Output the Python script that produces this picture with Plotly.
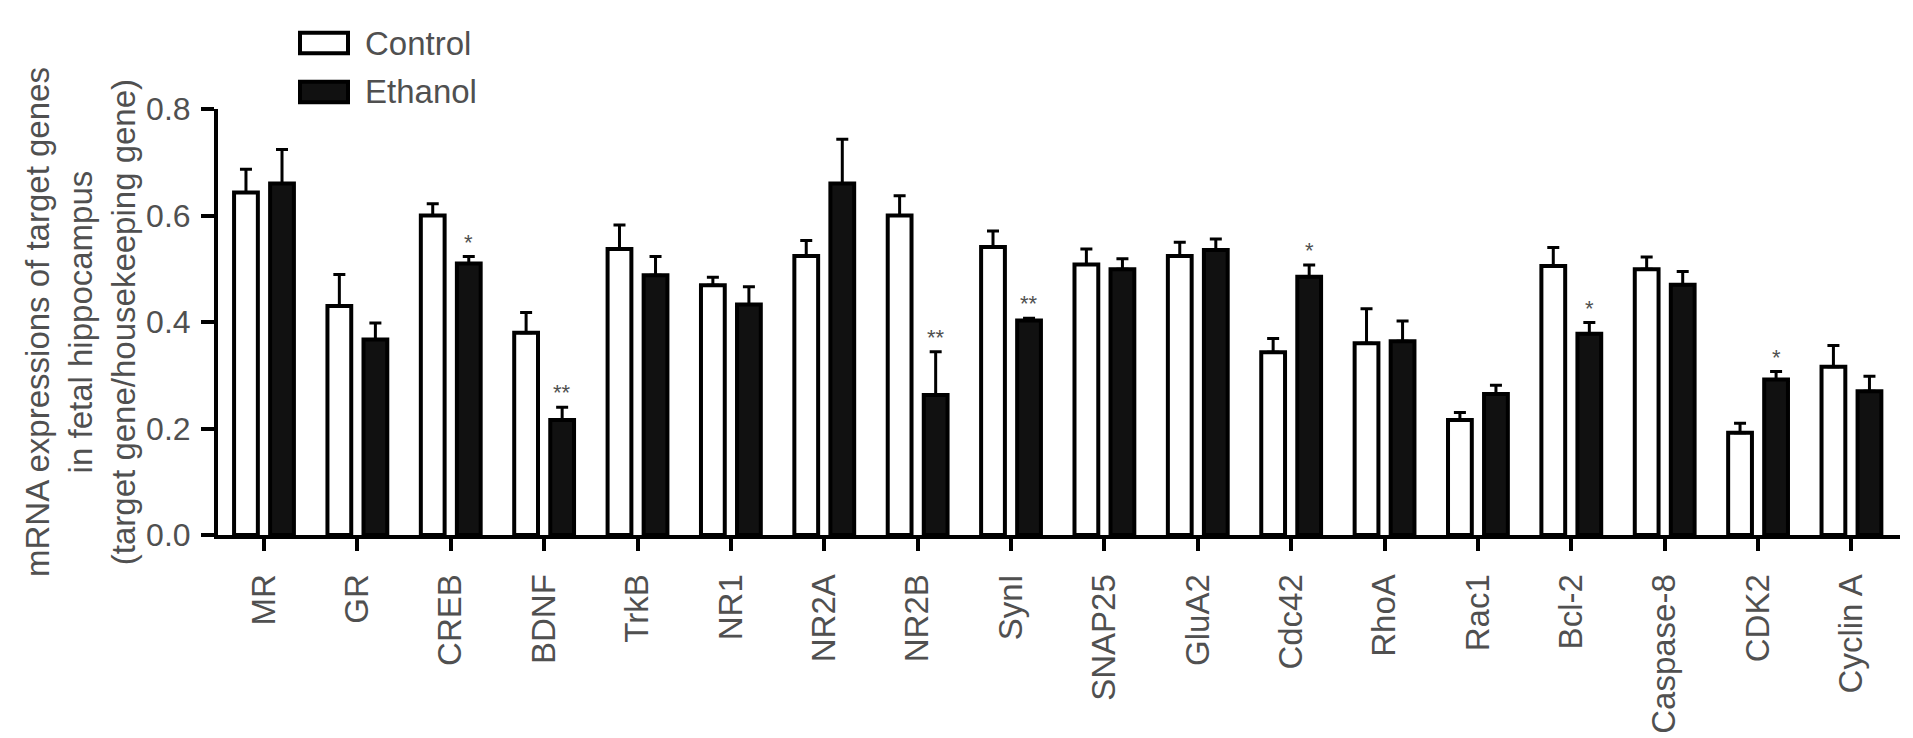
import plotly.graph_objects as go

categories = ['MR', 'GR', 'CREB', 'BDNF', 'TrkB', 'NR1', 'NR2A', 'NR2B', 'SynI', 'SNAP25',
              'GluA2', 'Cdc42', 'RhoA', 'Rac1', 'Bcl-2', 'Caspase-8', 'CDK2', 'Cyclin A']
control = [0.643, 0.430, 0.600, 0.380, 0.537, 0.469, 0.524, 0.600, 0.541, 0.508,
           0.524, 0.343, 0.360, 0.216, 0.505, 0.499, 0.192, 0.316]
control_err = [0.044, 0.059, 0.022, 0.038, 0.045, 0.015, 0.029, 0.037, 0.030, 0.029,
               0.026, 0.026, 0.065, 0.014, 0.035, 0.023, 0.018, 0.040]
ethanol = [0.660, 0.367, 0.510, 0.216, 0.488, 0.433, 0.660, 0.263, 0.403, 0.499,
           0.535, 0.485, 0.364, 0.265, 0.378, 0.470, 0.292, 0.270]
ethanol_err = [0.064, 0.031, 0.013, 0.024, 0.035, 0.033, 0.083, 0.081, 0.004, 0.020,
               0.021, 0.022, 0.038, 0.016, 0.021, 0.025, 0.015, 0.028]
significance = ['', '', '*', '**', '', '', '', '**', '**', '',
                '', '*', '', '', '*', '', '*', '']
y_ticks = [0.0, 0.2, 0.4, 0.6, 0.8]
y_title = ['mRNA expressions of target genes', 'in fetal hippocampus',
           '(target gene/housekeeping gene)']

FONT = 'Liberation Sans, Arial, Helvetica, sans-serif'
GRAY = '#505050'
W, H = 1913, 738
L, R, T, B = 210, 21, 101, 201

fig = go.Figure()
fig.add_trace(go.Bar(
    x=categories, y=control, name='Control',
    marker=dict(color='white', line=dict(color='black', width=4)),
    error_y=dict(type='data', array=control_err, arrayminus=[0] * len(control),
                 symmetric=False, color='black', thickness=3, width=6),
))
fig.add_trace(go.Bar(
    x=categories, y=ethanol, name='Ethanol',
    marker=dict(color='#111111', line=dict(color='black', width=4)),
    error_y=dict(type='data', array=ethanol_err, arrayminus=[0] * len(ethanol),
                 symmetric=False, color='black', thickness=3, width=6),
))

bargap = 0.228
slot = (1 - bargap) / 2
for i, s in enumerate(significance):
    if s:
        fig.add_annotation(x=i + slot / 2, y=ethanol[i] + ethanol_err[i], xref='x', yref='y',
                           text=s, showarrow=False, yanchor='bottom', yshift=0,
                           font=dict(family=FONT, size=22, color=GRAY))

# y-axis title (three centred lines)
fig.add_annotation(xref='paper', yref='paper', x=(72 - L) / (W - L - R), y=0.5,
                   xanchor='center', yanchor='middle', textangle=-90,
                   text='<br>'.join(y_title), showarrow=False,
                   font=dict(family=FONT, size=33, color=GRAY))

# legend drawn as boxes + labels
pw, ph = W - L - R, H - T - B
def px(x):
    return (x - L) / pw
def py(y):
    return (H - B - y) / ph

legend_items = [('Control', 'white', 22, 45), ('Ethanol', '#111111', 72, 95)]
for name, fill, y0, y1 in legend_items:
    fig.add_shape(type='rect', xref='paper', yref='paper',
                  x0=px(292), x1=px(340), y0=py(y1 - 1), y1=py(y0 + 1),
                  fillcolor=fill, line=dict(color='black', width=4))
    fig.add_annotation(xref='paper', yref='paper', x=px(355), y=py((y0 + y1) / 2),
                       xanchor='left', yanchor='middle', text=name, showarrow=False,
                       font=dict(family=FONT, size=33, color=GRAY))

fig.update_layout(
    width=W, height=H,
    margin=dict(l=L, r=R, t=T, b=B, pad=0),
    paper_bgcolor='white', plot_bgcolor='white',
    barmode='group', bargap=bargap, bargroupgap=0.34,
    showlegend=False,
    font=dict(family=FONT, color=GRAY),
)
fig.update_xaxes(
    range=[-0.4925, 17.52], showgrid=False, zeroline=False,
    showline=True, linecolor='black', linewidth=4,
    ticks='outside', ticklen=12, tickwidth=4, tickcolor='black',
    tickangle=-90, tickfont=dict(family=FONT, size=33, color=GRAY),
    ticklabelstandoff=10,
)
fig.update_yaxes(
    range=[0, 0.8], showgrid=False, zeroline=False,
    showline=True, linecolor='black', linewidth=4,
    ticks='outside', ticklen=13, tickwidth=4, tickcolor='black',
    tickvals=y_ticks, ticktext=[f'{v:.1f}' for v in y_ticks],
    tickfont=dict(family=FONT, size=32, color=GRAY),
    ticklabelstandoff=4,
)

fig.write_html('out.html')
